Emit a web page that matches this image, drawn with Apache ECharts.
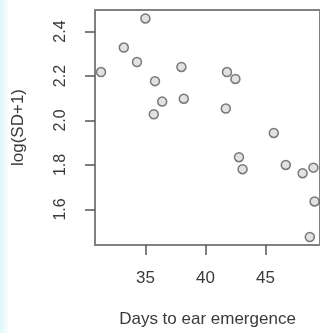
<!DOCTYPE html>
<html>
<head>
<meta charset="utf-8">
<script src="https://cdn.jsdelivr.net/npm/echarts@6/dist/echarts.min.js"></script>
<style>
  html, body { margin: 0; padding: 0; background: #fff; }
  #main { width: 320px; height: 333px; }
</style>
</head>
<body>
<div id="main"></div>
<script>
// days to ear emergence vs log(SD+1)
var days = [31.3, 33.2, 35.0, 34.3, 35.8, 36.4, 35.7, 38.0, 38.2, 41.8,
            42.5, 41.7, 45.7, 42.8, 43.1, 46.7, 48.1, 49.0, 49.1, 48.7];
var logSD = [2.218, 2.328, 2.459, 2.263, 2.177, 2.085, 2.028, 2.241, 2.098, 2.218,
             2.187, 2.054, 1.944, 1.835, 1.781, 1.800, 1.763, 1.788, 1.636, 1.476];
var xTicks = [35, 40, 45];
var yTicks = [1.6, 1.8, 2.0, 2.2, 2.4];

var pts = [];
for (var i = 0; i < days.length; i++) {
    pts.push([days[i], logSD[i]]);
}

var txt = '#3a3a3a';
var frame = '#808080';
var font = 'Liberation Sans, Arial, sans-serif';

var myChart = echarts.init(document.getElementById('main'));
myChart.setOption({
    animation: false,
    graphic: [{
        type: 'rect',
        left: 0, top: 0,
        shape: { width: 10, height: 333 },
        style: {
            fill: new echarts.graphic.LinearGradient(0, 0, 1, 0, [
                { offset: 0, color: '#dff6fb' },
                { offset: 1, color: '#ffffff' }
            ])
        },
        z: -1
    }],
    grid: {
        left: 95, top: 10, right: 0, bottom: 85,
        show: true,
        borderColor: frame,
        borderWidth: 2,
        backgroundColor: 'transparent'
    },
    xAxis: {
        type: 'value',
        min: 30.8, max: 49.55,
        splitLine: { show: false },
        axisLine: { show: true, lineStyle: { color: frame, width: 2 } },
        axisTick: { show: true, length: 10, customValues: xTicks,
                    lineStyle: { color: '#555', width: 1.5 } },
        axisLabel: { customValues: xTicks, color: txt, fontSize: 17,
                     fontFamily: font, margin: 25 },
        name: 'Days to ear emergence',
        nameLocation: 'middle',
        nameGap: 66,
        nameTextStyle: { color: txt, fontSize: 17, fontFamily: font }
    },
    yAxis: {
        type: 'value',
        min: 1.44, max: 2.497,
        splitLine: { show: false },
        axisLine: { show: true, lineStyle: { color: frame, width: 2 } },
        axisTick: { show: true, length: 10, customValues: yTicks,
                    lineStyle: { color: '#555', width: 1.5 } },
        axisLabel: { customValues: yTicks, color: txt, fontSize: 16,
                     fontFamily: font, margin: 26, rotate: 90,
                     formatter: function (v) { return v.toFixed(1); } },
        name: 'log(SD+1)',
        nameLocation: 'middle',
        nameGap: 68,
        nameTextStyle: { color: txt, fontSize: 17, fontFamily: font }
    },
    series: [{
        type: 'scatter',
        data: pts,
        symbol: 'circle',
        symbolSize: 9,
        itemStyle: {
            color: 'rgba(150,150,150,0.35)',
            borderColor: '#5a5a5a',
            borderWidth: 1.5
        }
    }]
});
</script>
</body>
</html>
